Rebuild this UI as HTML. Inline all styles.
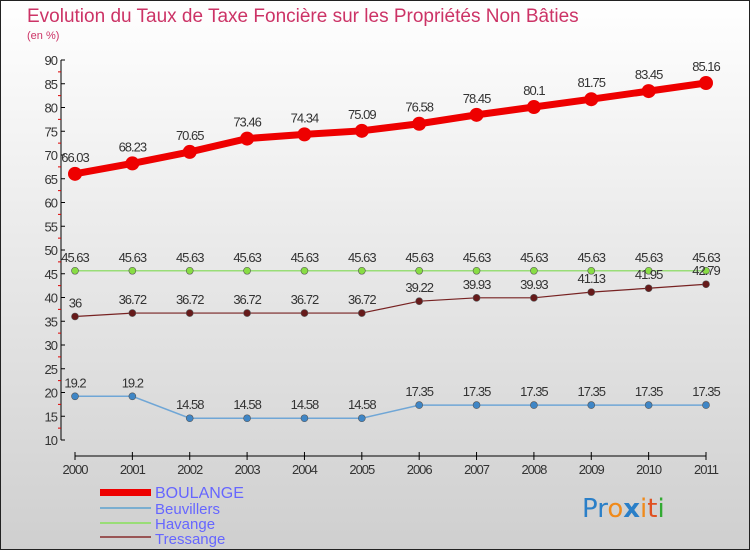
<!DOCTYPE html>
<html><head><meta charset="utf-8"><style>
body{margin:0}
#wrap{position:relative;width:750px;height:550px;overflow:hidden;font-family:"Liberation Sans","DejaVu Sans",sans-serif}
</style></head><body>
<div id="wrap">
<svg id="svg" width="750" height="550" xmlns="http://www.w3.org/2000/svg">
<defs><linearGradient id="bg" x1="0" y1="0" x2="0" y2="1"><stop offset="0" stop-color="#ffffff"/><stop offset="1" stop-color="#cfcfcf"/></linearGradient></defs>
<rect x="0.5" y="0.5" width="749" height="549" fill="url(#bg)" stroke="#222"/>
<text x="27" y="22" font-size="19" fill="#cc3366">Evolution du Taux de Taxe Foncière sur les Propriétés Non Bâties</text>
<text x="27" y="39" font-size="11" fill="#cc3366">(en %)</text>
<g id="axes"></g><g id="series"></g>
<g>
<rect x="100" y="489" width="51" height="7" fill="#ee0000"/>
<text x="155" y="498" font-size="16" fill="#6666ff">BOULANGE</text>
<rect x="100" y="507" width="51" height="2" fill="#7aaed0"/>
<text x="155" y="514" font-size="15" fill="#6666ff">Beuvillers</text>
<rect x="100" y="522" width="51" height="2" fill="#99dd77"/>
<text x="155" y="529" font-size="15" fill="#6666ff">Havange</text>
<rect x="100" y="536" width="51" height="2" fill="#995555"/>
<text x="155" y="544" font-size="15" fill="#6666ff">Tressange</text>
</g>
<g font-size="26" font-family="'DejaVu Sans',sans-serif">
<text x="582" y="517"><tspan fill="#2a7fc8">Pr</tspan><tspan fill="#f08a1a">o</tspan><tspan fill="#2a7fc8" font-weight="bold">x</tspan><tspan fill="#f08a1a">i</tspan><tspan fill="#e05020">t</tspan><tspan fill="#33aa33">i</tspan></text>
</g>
</svg>
</div>
<script>
const years=[2000,2001,2002,2003,2004,2005,2006,2007,2008,2009,2010,2011];
const yTicks=[10,15,20,25,30,35,40,45,50,55,60,65,70,75,80,85,90];
const boulange=[66.03,68.23,70.65,73.46,74.34,75.09,76.58,78.45,80.1,81.75,83.45,85.16];
const beuvillers=[19.2,19.2,14.58,14.58,14.58,14.58,17.35,17.35,17.35,17.35,17.35,17.35];
const havange=[45.63,45.63,45.63,45.63,45.63,45.63,45.63,45.63,45.63,45.63,45.63,45.63];
const tressange=[36,36.72,36.72,36.72,36.72,36.72,39.22,39.93,39.93,41.13,41.95,42.79];
const NS="http://www.w3.org/2000/svg";
function X(i){return 75+i*(706-75)/(years.length-1);}
function Y(v){return 440-(v-10)*(380/80);}
function mk(t,a,p){const e=document.createElementNS(NS,t);for(const k in a)e.setAttribute(k,a[k]);p.appendChild(e);return e;}
const ax=document.getElementById('axes');
const yl=mk('line',{x1:61,y1:60,x2:61,y2:440,stroke:'#000'},ax);


yTicks.forEach(v=>{
  mk('line',{x1:61,y1:Y(v),x2:65,y2:Y(v),stroke:'#000'},ax);
  mk('line',{x1:58,y1:Y(v+2.5),x2:61,y2:Y(v+2.5),stroke:v<90?'#dd0000':'none'},ax);
  const t=mk('text',{x:57,y:Y(v)+5,'font-size':13,'text-anchor':'end',fill:'#333','letter-spacing':'-1'},ax);
  t.textContent=v;
  
  
});
const xl=mk('line',{x1:X(0),y1:456,x2:X(11),y2:456,stroke:'#000'},ax);


years.forEach((y,i)=>{
  mk('line',{x1:X(i),y1:452,x2:X(i),y2:460,stroke:'#000'},ax);
  const t=mk('text',{x:X(i),y:474,'font-size':13,'text-anchor':'middle',fill:'#333','letter-spacing':'-1'},ax);
  t.textContent=y;
  
  
});
const sg=document.getElementById('series');
function series(name,vals,color,dotc,w,r,fs){
  const g=mk('g',{},sg);
  
  
  mk('polyline',{points:vals.map((v,i)=>X(i)+','+Y(v)).join(' '),fill:'none',stroke:color,'stroke-width':w},g);
  vals.forEach((v,i)=>{
    const c=mk('circle',{cx:X(i),cy:Y(v),r:r,fill:dotc,stroke:r>4?'none':'#555','stroke-width':0.6},g);
    
    
    const t=mk('text',{x:X(i),y:Y(v)-(r>4?12:9),'font-size':fs,'text-anchor':'middle',fill:'#333','letter-spacing':'-1'},g);
    t.textContent=v;
    
    
  });
}
series('havange',havange,'#99dd77','#88dd44',1.5,3.5,13);
series('tressange',tressange,'#772222','#661a1a',1.2,3.5,13);
series('beuvillers',beuvillers,'#6fa6d6','#3f86c6',1.5,3.5,13);
series('boulange',boulange,'#ee0000','#ee0000',7,7,13);
</script>
</body></html>
